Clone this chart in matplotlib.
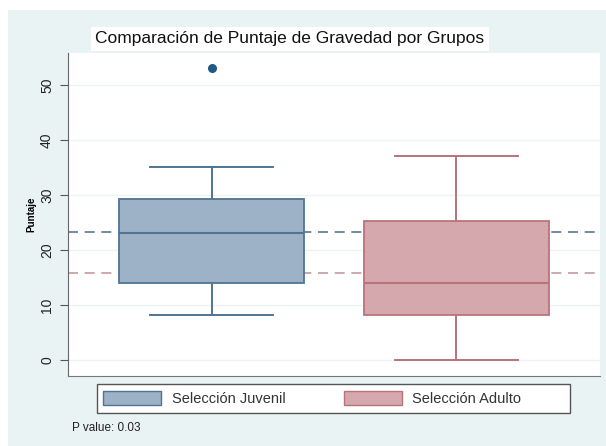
import matplotlib
matplotlib.use("Agg")
import matplotlib.pyplot as plt
from matplotlib.patches import Patch, Rectangle

plt.rcParams['font.family'] = ['Liberation Sans', 'DejaVu Sans']

# data
groups = ['Selección Juvenil', 'Selección Adulto']
medians = [23.1, 14.0]
q1s = [14.0, 8.2]
q3s = [29.3, 25.2]
whis_lo = [8.2, 0.0]
whis_hi = [35.1, 37.1]
outliers = [[53.1], []]
means = [23.3, 15.8]
yticks = [0, 10, 20, 30, 40, 50]
p_value = 0.03

fills = ['#9db2c6', '#d5a8ad']
edges = ['#4f7494', '#b9737b']
mean_cols = ['#5b7790', '#c49a9e']

fig = plt.figure(figsize=(6.06, 4.46), dpi=100)
fig.patch.set_facecolor('white')
# stata-like light background panel
fig.patches.append(Rectangle((8/606, 0), 1, 1 - 10/446, transform=fig.transFigure,
                             facecolor='#eaf3f4', edgecolor='none', zorder=-10))

ax = fig.add_axes([68/606, 1 - 376/446, 532/606, 323/446])
ax.set_facecolor('white')

stats = []
for i in range(len(groups)):
    stats.append(dict(med=medians[i], q1=q1s[i], q3=q3s[i],
                      whislo=whis_lo[i], whishi=whis_hi[i],
                      fliers=outliers[i], label=groups[i]))

bp = ax.bxp(stats, positions=[1, 2], widths=0.755, capwidths=0.5,
            patch_artist=True, showfliers=True)
for i in range(len(groups)):
    bp['boxes'][i].set(facecolor=fills[i], edgecolor=edges[i], linewidth=1.3, zorder=3)
    bp['medians'][i].set(color=edges[i], linewidth=1.5, zorder=4)
    for ln in bp['whiskers'][2*i:2*i+2] + bp['caps'][2*i:2*i+2]:
        ln.set(color=edges[i], linewidth=1.4)
    bp['fliers'][i].set(marker='o', markerfacecolor='#1f5a87', markeredgecolor='#1f5a87',
                        markersize=5.5)

for i in range(len(groups)):
    ax.axhline(means[i], color=mean_cols[i], linestyle=(0, (6, 4)), linewidth=1.2, zorder=2)

ax.set_xlim(0.414, 2.586)
ax.set_ylim(-2.9, 55.8)
ax.set_yticks(yticks)
ax.set_yticklabels([str(t) for t in yticks], rotation=90, va='center', fontsize=10)
ax.tick_params(axis='y', length=6, color='#555555', pad=4, labelcolor='#222222')
ax.set_xticks([])
ax.grid(axis='y', color='#eef2f3', linewidth=1)
ax.set_axisbelow(True)
ax.spines['top'].set_visible(False)
ax.spines['right'].set_visible(False)
ax.spines['left'].set_color('#666666')
ax.spines['bottom'].set_color('#777777')
ax.set_ylabel('Puntaje', fontsize=7, fontweight='bold', labelpad=3)

fig.text(290/606, 1 - 39/446, 'Comparación de Puntaje de Gravedad por Grupos',
         ha='center', va='center', fontsize=12.5, color='#111111',
         bbox=dict(facecolor='white', edgecolor='none', pad=3))

# legend frame drawn separately, items placed inside
fig.patches.append(Rectangle((97/606, 1 - 413/446), 473/606, 29/446, transform=fig.transFigure,
                             facecolor='white', edgecolor='#555555', linewidth=1, zorder=1))
handles = [Patch(facecolor=fills[i], edgecolor=edges[i], label=groups[i]) for i in range(2)]
leg = fig.legend(handles=handles, ncol=2, loc='center left',
                 bbox_to_anchor=(103/606, 1 - 398.5/446),
                 fontsize=10.5, frameon=False, borderpad=0, borderaxespad=0,
                 handlelength=4.0, handleheight=1.15, handletextpad=0.7, columnspacing=4.0)
for t in leg.get_texts():
    t.set_color('#333333')

fig.text(72/606, 1 - 428/446, 'P value: %.2f' % p_value, fontsize=8.5, va='center',
         color='#222222')

fig.savefig('out.png', dpi=100)
